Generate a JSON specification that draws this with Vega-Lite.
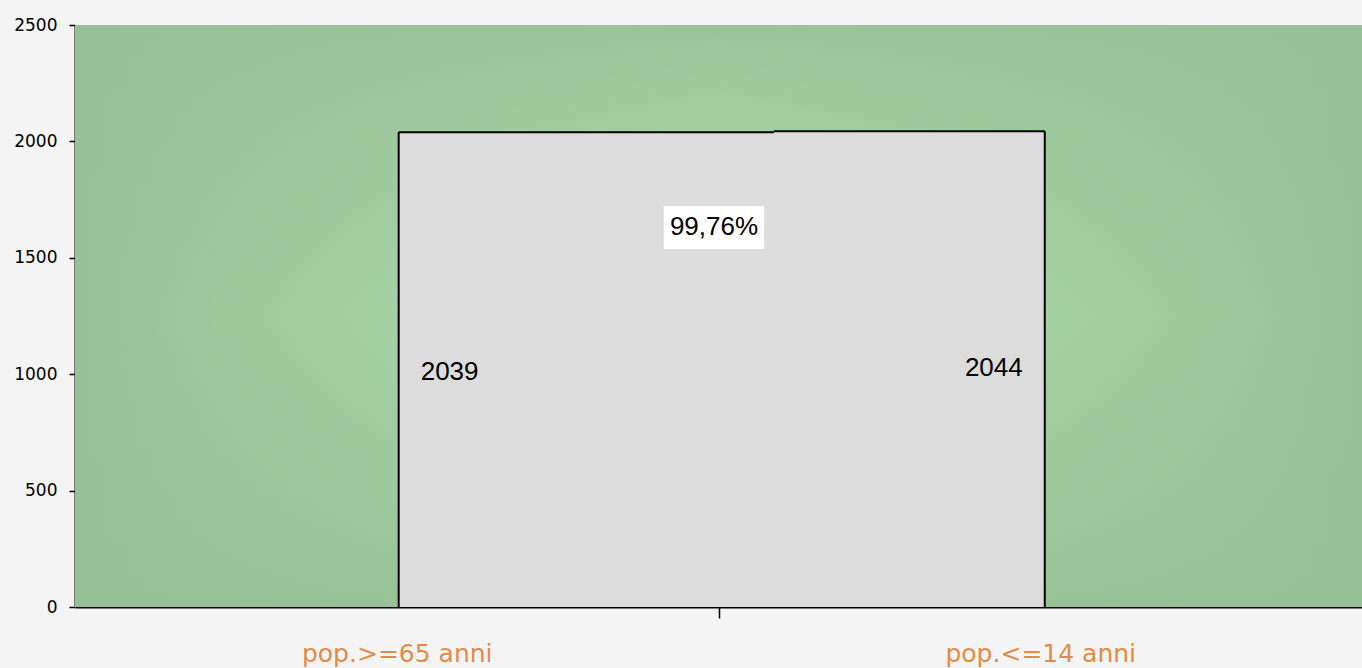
{
  "$schema": "https://vega.github.io/schema/vega-lite/v6.json",
  "width": 1287,
  "height": 582,
  "autosize": {"type": "none"},
  "padding": {"left": 75, "top": 25, "right": 0, "bottom": 61},
  "background": "#f4f4f4",
  "config": {"view": {"stroke": "#8a9a8a", "strokeWidth": 1}},
  "datasets": {
    "pop": [
      {"category": "pop.>=65 anni", "value": 2039},
      {"category": "pop.<=14 anni", "value": 2044}
    ],
    "frame": [{}]
  },
  "layer": [
    {
      "data": {"name": "frame"},
      "mark": {
        "type": "rect",
        "fill": {
          "gradient": "linear", "x1": 0, "y1": 0, "x2": 1, "y2": 0,
          "stops": [
            {"offset": 0, "color": "#96c196"},
            {"offset": 0.5, "color": "#b4e2b4"},
            {"offset": 1, "color": "#96c196"}
          ]
        }
      },
      "encoding": {
        "x": {
          "datum": 0, "type": "quantitative",
          "scale": {"domain": [0, 2], "nice": false, "zero": false},
          "axis": {
            "values": [0.5, 1, 1.5],
            "labelExpr": "datum.value == 0.5 ? 'pop.>=65 anni' : (datum.value == 1.5 ? 'pop.<=14 anni' : '')",
            "title": null, "grid": false,
            "domainColor": "#000", "domainWidth": 2,
            "tickColor": "#000", "tickWidth": 1.5, "tickSize": 11,
            "tickOpacity": {"condition": {"test": "datum.value == 1", "value": 1}, "value": 0},
            "labelFont": "DejaVu Sans", "labelFontSize": 25, "labelColor": "#e38b45",
            "labelPadding": 23, "labelOverlap": false, "labelFlush": false, "labelLimit": 500
          }
        },
        "x2": {"datum": 2},
        "y": {
          "datum": 0, "type": "quantitative",
          "scale": {"domain": [0, 2500], "nice": false},
          "axis": {
            "values": [0, 500, 1000, 1500, 2000, 2500],
            "format": "d", "title": null, "grid": false,
            "domainColor": "#000", "domainWidth": 2,
            "tickColor": "#000", "tickWidth": 1.5, "tickSize": 6,
            "labelFont": "DejaVu Sans", "labelFontSize": 17, "labelColor": "#000",
            "labelPadding": 12, "labelFlush": false
          }
        },
        "y2": {"datum": 2500}
      }
    },
    {
      "data": {"name": "frame"},
      "mark": {
        "type": "rect",
        "fill": {
          "gradient": "linear", "x1": 0, "y1": 0, "x2": 0, "y2": 1,
          "stops": [
            {"offset": 0, "color": "rgba(150,193,150,0.9)"},
            {"offset": 0.5, "color": "rgba(150,193,150,0)"},
            {"offset": 1, "color": "rgba(150,193,150,0.9)"}
          ]
        }
      },
      "encoding": {
        "x": {"datum": 0, "type": "quantitative"},
        "x2": {"datum": 2},
        "y": {"datum": 0, "type": "quantitative"},
        "y2": {"datum": 2500}
      }
    },
    {
      "data": {"name": "pop"},
      "transform": [{"filter": "datum.category === 'pop.>=65 anni'"}],
      "layer": [
        {
          "mark": {"type": "bar", "fill": "#dcdcdc", "strokeWidth": 0},
          "encoding": {
            "x": {"datum": 0.503, "type": "quantitative"},
            "x2": {"datum": 1.092},
            "y": {"field": "value", "type": "quantitative", "title": null},
            "y2": {"datum": 0}
          }
        },
        {
          "mark": {"type": "rule", "color": "#000", "strokeWidth": 2},
          "encoding": {
            "x": {"datum": 0.503, "type": "quantitative"},
            "x2": {"datum": 1.088},
            "y": {"field": "value", "type": "quantitative", "title": null}
          }
        },
        {
          "mark": {"type": "rule", "color": "#000", "strokeWidth": 2},
          "encoding": {
            "x": {"datum": 0.503, "type": "quantitative"},
            "y": {"field": "value", "type": "quantitative", "title": null},
            "y2": {"datum": 0}
          }
        },
        {
          "mark": {"type": "text", "align": "left", "baseline": "middle", "dx": 22, "font": "Liberation Sans", "fontSize": 26, "color": "#000"},
          "encoding": {
            "x": {"datum": 0.503, "type": "quantitative"},
            "y": {"datum": 1009, "type": "quantitative"},
            "text": {"field": "value", "type": "quantitative", "format": "d"}
          }
        }
      ]
    },
    {
      "data": {"name": "pop"},
      "transform": [{"filter": "datum.category === 'pop.<=14 anni'"}],
      "layer": [
        {
          "mark": {"type": "bar", "fill": "#dcdcdc", "strokeWidth": 0},
          "encoding": {
            "x": {"datum": 1.086, "type": "quantitative"},
            "x2": {"datum": 1.507},
            "y": {"field": "value", "type": "quantitative", "title": null},
            "y2": {"datum": 0}
          }
        },
        {
          "mark": {"type": "rule", "color": "#000", "strokeWidth": 2},
          "encoding": {
            "x": {"datum": 1.086, "type": "quantitative"},
            "x2": {"datum": 1.507},
            "y": {"field": "value", "type": "quantitative", "title": null}
          }
        },
        {
          "mark": {"type": "rule", "color": "#000", "strokeWidth": 2},
          "encoding": {
            "x": {"datum": 1.507, "type": "quantitative"},
            "y": {"field": "value", "type": "quantitative", "title": null},
            "y2": {"datum": 0}
          }
        },
        {
          "mark": {"type": "text", "align": "right", "baseline": "middle", "dx": -22, "font": "Liberation Sans", "fontSize": 26, "color": "#000"},
          "encoding": {
            "x": {"datum": 1.507, "type": "quantitative"},
            "y": {"datum": 1027, "type": "quantitative"},
            "text": {"field": "value", "type": "quantitative", "format": "d"}
          }
        }
      ]
    },
    {
      "data": {"name": "frame"},
      "mark": {"type": "rect", "fill": "#ffffff"},
      "encoding": {
        "x": {"datum": 0.915, "type": "quantitative"},
        "x2": {"datum": 1.071},
        "y": {"datum": 1538, "type": "quantitative"},
        "y2": {"datum": 1722}
      }
    },
    {
      "data": {"name": "frame"},
      "mark": {"type": "text", "align": "center", "baseline": "middle", "font": "Liberation Sans", "fontSize": 26, "color": "#000"},
      "encoding": {
        "x": {"datum": 0.993, "type": "quantitative"},
        "y": {"datum": 1632, "type": "quantitative"},
        "text": {"value": "99,76%"}
      }
    }
  ]
}
